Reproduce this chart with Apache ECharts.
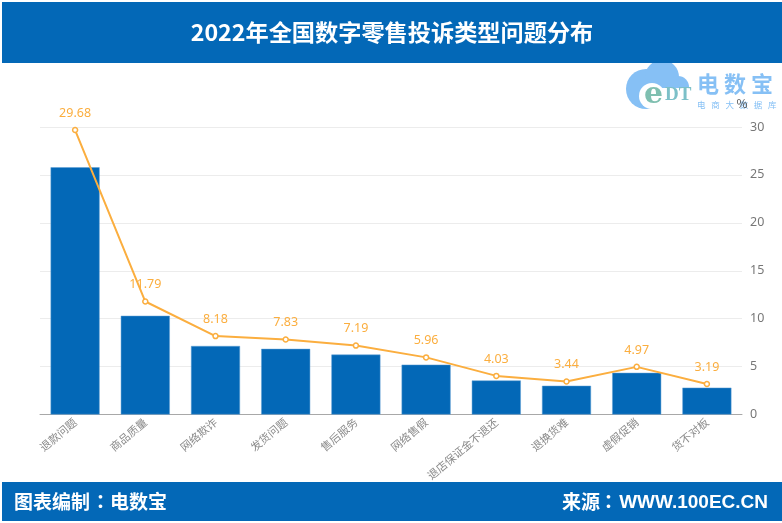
<!DOCTYPE html>
<html>
<head>
<meta charset="utf-8">
<style>
html, body { margin: 0; padding: 0; background: #fff; }
#main { width: 782px; height: 523px; }
</style>
<script src="https://cdn.jsdelivr.net/npm/echarts@6/dist/echarts.min.js"></script>
</head>
<body>
<div id="main"></div>
<script>
var categories = ['退款问题', '商品质量', '网络欺诈', '发货问题', '售后服务', '网络售假', '退店保证金不退还', '退换货难', '虚假促销', '货不对板'];
var barValues = [25.8, 10.3, 7.15, 6.85, 6.25, 5.2, 3.55, 3.0, 4.35, 2.8];
var lineValues = [29.68, 11.79, 8.18, 7.83, 7.19, 5.96, 4.03, 3.44, 4.97, 3.19];
var yTicks = [0, 5, 10, 15, 20, 25, 30];

var cjk = '"Noto Sans CJK SC", sans-serif';
var blue = '#0368b7';
var logoBlue = '#86c0f5';

var myChart = echarts.init(document.getElementById('main'));
var option = {
    animation: false,
    backgroundColor: '#fff',
    title: {
        text: '2022年全国数字零售投诉类型问题分布',
        left: 387,
        top: 16,
        textAlign: 'center',
        textStyle: { color: '#fff', fontSize: 23.2, fontWeight: 'bold', fontFamily: cjk }
    },
    grid: { left: 40, right: 40, top: 127, height: 287.5 },
    xAxis: {
        type: 'category',
        data: categories,
        axisTick: { show: false },
        axisLine: { lineStyle: { color: '#a8a8a8', width: 1 } },
        axisLabel: { rotate: 40, interval: 0, color: '#8a8a8a', fontSize: 11, fontFamily: cjk, margin: 6 }
    },
    yAxis: {
        type: 'value',
        position: 'right',
        min: yTicks[0],
        max: yTicks[yTicks.length - 1],
        interval: 5,
        name: '%',
        nameGap: 18,
        nameTextStyle: { color: '#555', fontSize: 12, align: 'center', fontFamily: cjk },
        axisLine: { show: false },
        axisTick: { show: false },
        axisLabel: { color: '#777', fontSize: 12.5, margin: 8, fontFamily: '"Noto Sans"' },
        splitLine: { lineStyle: { color: '#ececec', width: 1 } }
    },
    series: [
        {
            type: 'bar',
            data: barValues,
            barWidth: 49,
            itemStyle: { color: blue, borderColor: '#5f9fd4', borderWidth: 0.5 }
        },
        {
            type: 'line',
            data: lineValues,
            symbol: 'circle',
            symbolSize: 5,
            itemStyle: { color: '#fff', borderColor: '#fbae3f', borderWidth: 1.5 },
            lineStyle: { color: '#fbae3f', width: 2 },
            label: {
                show: true,
                position: 'top',
                distance: 7,
                color: '#fbae3f',
                fontSize: 12.5,
                fontFamily: '"Noto Sans"'
            }
        }
    ],
    graphic: [
        // logo: cloud + lettering, top of the cloud runs under the header
        { type: 'circle', z: -2, shape: { cx: 646, cy: 89, r: 20 }, style: { fill: logoBlue } },
        { type: 'circle', z: -2, shape: { cx: 662, cy: 77, r: 17 }, style: { fill: logoBlue } },
        { type: 'circle', z: -2, shape: { cx: 678, cy: 87, r: 11 }, style: { fill: logoBlue } },
        { type: 'circle', z: -2, shape: { cx: 652, cy: 96, r: 13 }, style: { fill: '#fff' } },
        { type: 'rect', z: -2, shape: { x: 652, y: 88, width: 40, height: 21 }, style: { fill: '#fff' } },
        { type: 'text', x: 644, y: 80, style: { text: 'e', fill: '#7fbfb0', font: 'bold 30px "DejaVu Serif"' } },
        { type: 'text', x: 665, y: 86, style: { text: 'DT', fill: '#7cc0c8', font: 'bold 19px "Liberation Serif"' } },
        { type: 'text', x: 697, y: 73, style: { text: '电 数 宝', fill: logoBlue, font: 'bold 22px ' + cjk } },
        { type: 'text', x: 697, y: 101, style: { text: '电   商   大   数   据   库', fill: logoBlue, font: '8.5px ' + cjk } },
        // header and footer bands
        { type: 'rect', z: -1, shape: { x: 2, y: 2, width: 780, height: 61 }, style: { fill: blue } },
        { type: 'rect', z: -1, shape: { x: 2, y: 482, width: 780, height: 39 }, style: { fill: blue } },
        { type: 'text', x: 14, y: 492, style: { text: '图表编制', fill: '#fff', font: 'bold 19px ' + cjk } },
        { type: 'text', x: 91, y: 492, style: { text: '：', fill: '#fff', font: 'bold 19px "Noto Sans CJK TC"' } },
        { type: 'text', x: 110, y: 492, style: { text: '电数宝', fill: '#fff', font: 'bold 19px ' + cjk } },
        { type: 'text', x: 562, y: 492, style: { text: '来源', fill: '#fff', font: 'bold 19px ' + cjk } },
        { type: 'text', x: 599, y: 492, style: { text: '：', fill: '#fff', font: 'bold 19px "Noto Sans CJK TC"' } },
        { type: 'text', x: 768, y: 493, style: { text: 'WWW.100EC.CN', fill: '#fff', align: 'right', font: 'bold 19px "Liberation Sans"' } }
    ]
};
myChart.setOption(option);
</script>
</body>
</html>
